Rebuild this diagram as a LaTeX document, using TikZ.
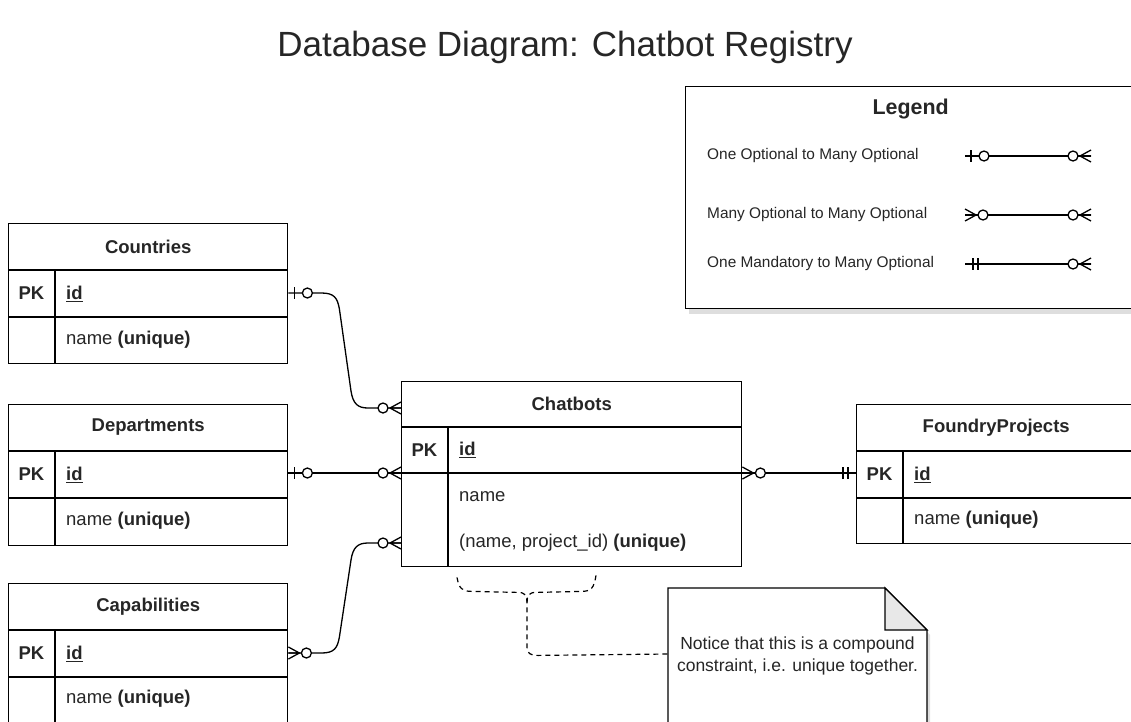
\documentclass[tikz,border=0pt]{standalone}
\usepackage{fontspec}
\setmainfont{Liberation Sans}
\usetikzlibrary{calc,shadows}
\newcommand\ertable[6]{%
  \node[tblbox, minimum width=#4, minimum height=#5, anchor=north west] (#1) at (#2,#3) {};
  \coordinate (#1-h) at ($(#1.north west)+(0,47)$);
  \coordinate (#1-r) at ($(#1.north west)+(0,94)$);
  \draw[tblline] (#1-h) -- (#1-h -| #1.east);
  \draw[tblline] (#1-r) -- (#1-r -| #1.east);
  \draw[tblline] ($(#1-h)+(47,0)$) -- ($(#1.south west)+(47,0)$);
  \node[hdrtext] (#1-title) at ($(#1.north)+(0,23.5)$) {#6};
  \node[pktext] (#1-pk) at ($(#1.north west)+(23.5,70.5)$) {PK};
  \node[fieldtext] (#1-id) at ($(#1.north west)+(58,70.5)$) {\textbf{\underline{id}}};
}
\begin{document}
\begin{tikzpicture}[x=1pt,y=-1pt,
  tblbox/.style={draw, line width=1.4pt, inner sep=0pt, fill=white},
  tblline/.style={line width=1.4pt},
  hdrtext/.style={font=\fontsize{18.5}{22}\selectfont\bfseries, inner sep=0pt, text=black!85},
  pktext/.style={font=\fontsize{18.5}{22}\selectfont\bfseries, inner sep=0pt, text=black!85},
  fieldtext/.style={font=\fontsize{18.5}{22}\selectfont, inner sep=0pt, anchor=west, text=black!85},
  legtext/.style={font=\fontsize{15.4}{18}\selectfont, inner sep=0pt, anchor=west, text=black!85},
  conn/.style={line width=1.3pt},
  dashconn/.style={line width=1.2pt, dash pattern=on 5pt off 4pt},
  boxshadow/.style={drop shadow={shadow xshift=3pt, shadow yshift=-5pt, opacity=0.13, fill=black}},
  pics/oneopt/.style={code={\draw[conn] (6,-6) -- (6,6); \draw[conn, fill=white] (19,0) circle (5pt);}},
  pics/manyopt/.style={code={\draw[conn] (0,-6) -- (11,0) -- (0,6) (0,0) -- (11,0); \draw[conn, fill=white] (18,0) circle (5pt);}},
  pics/onemand/.style={code={\draw[conn] (8,-6) -- (8,6) (13,-6) -- (13,6);}},
]
\useasboundingbox (0,0) rectangle (1131,721);
\clip (0,0) rectangle (1131,721);
\fill[white] (0,0) rectangle (1131,721);

% Title
\node[font=\fontsize{35}{40}\selectfont, text=black!85] (title) at (565,47) {Database Diagram: Chatbot Registry};

% Legend
\node[draw, line width=1.4pt, fill=white, boxshadow, minimum width=450, minimum height=222, anchor=north west, inner sep=0pt] (legend) at (685,86) {};
\node[font=\fontsize{21.4}{24}\selectfont\bfseries, text=black!85] (legtitle) at ($(legend.north)+(0,23)$) {Legend};
\node[legtext] (leg1) at (707,156) {One Optional to Many Optional};
\node[legtext] (leg2) at (707,215) {Many Optional to Many Optional};
\node[legtext] (leg3) at (707,264) {One Mandatory to Many Optional};
\coordinate (l1a) at (965,156); \coordinate (l1b) at (1091,156);
\coordinate (l2a) at (965,215); \coordinate (l2b) at (1091,215);
\coordinate (l3a) at (965,264); \coordinate (l3b) at (1091,264);
\draw[conn] (l1a) -- (l1b);
\draw[conn] (l2a) -- (l2b);
\draw[conn] (l3a) -- (l3b);
\pic at (l1a) {oneopt};  \pic[rotate=180] at (l1b) {manyopt};
\pic at (l2a) {manyopt}; \pic[rotate=180] at (l2b) {manyopt};
\pic at (l3a) {onemand}; \pic[rotate=180] at (l3b) {manyopt};

% Tables
\ertable{countries}{8}{223}{279}{140}{Countries}
\node[fieldtext] (countries-name) at ($(countries.north west)+(58,117)$) {name \textbf{(unique)}};

\ertable{departments}{8}{404}{279}{141}{Departments}
\node[fieldtext] (departments-name) at ($(departments.north west)+(58,117)$) {name \textbf{(unique)}};

\ertable{capabilities}{8}{583}{279}{141}{Capabilities}
\node[fieldtext] (capabilities-name) at ($(capabilities.north west)+(58,116)$) {name \textbf{(unique)}};

\node[tblbox, minimum width=340, minimum height=185, anchor=north west] (chatbots) at (401,381) {};
\coordinate (chatbots-h) at ($(chatbots.north west)+(0,46)$);
\coordinate (chatbots-r) at ($(chatbots.north west)+(0,92)$);
\draw[tblline] (chatbots-h) -- (chatbots-h -| chatbots.east);
\draw[tblline] (chatbots-r) -- (chatbots-r -| chatbots.east);
\draw[tblline] ($(chatbots-h)+(47,0)$) -- ($(chatbots.south west)+(47,0)$);
\node[hdrtext] (chatbots-title) at ($(chatbots.north)+(0,23)$) {Chatbots};
\node[pktext] (chatbots-pk) at ($(chatbots.north west)+(23.5,69)$) {PK};
\node[fieldtext] (chatbots-id) at ($(chatbots.north west)+(58,69)$) {\textbf{\underline{id}}};
\node[fieldtext] (chatbots-name) at ($(chatbots.north west)+(58,116)$) {name};
\node[fieldtext] (chatbots-uniq) at ($(chatbots.north west)+(58,162)$) {(name, project\_id) \textbf{(unique)}};

\ertable{foundry}{856}{404}{279}{139}{FoundryProjects}
\node[fieldtext] (foundry-name) at ($(foundry.north west)+(58,116)$) {name \textbf{(unique)}};

% Connector anchor points
\coordinate (cA) at ($(countries.north east)+(0,70)$);
\coordinate (cB) at ($(departments.north east)+(0,69)$);
\coordinate (cC) at ($(capabilities.north east)+(0,70)$);
\coordinate (bA) at ($(chatbots.north west)+(0,27)$);
\coordinate (bB) at ($(chatbots.north west)+(0,92)$);
\coordinate (bC) at ($(chatbots.north west)+(0,162)$);
\coordinate (bD) at ($(chatbots.north east)+(0,92)$);
\coordinate (fD) at ($(foundry.north west)+(0,69)$);

% Connectors
\draw[conn] (cA) -- ($(cA)+(33,0)$) .. controls ($(cA)+(46,0)$) and ($(cA)+(49,5)$) .. ($(cA)+(51,16)$)
  -- ($(bA)+(-50,-17)$) .. controls ($(bA)+(-48,-4)$) and ($(bA)+(-43,0)$) .. ($(bA)+(-33,0)$) -- (bA);
\draw[conn] (cB) -- (bB);
\draw[conn] (cC) -- ($(cC)+(33,0)$) .. controls ($(cC)+(46,0)$) and ($(cC)+(49,-5)$) .. ($(cC)+(51,-16)$)
  -- ($(bC)+(-50,17)$) .. controls ($(bC)+(-48,4)$) and ($(bC)+(-43,0)$) .. ($(bC)+(-33,0)$) -- (bC);
\draw[conn] (bD) -- (fD);

\pic at (cA) {oneopt};  \pic[rotate=180] at (bA) {manyopt};
\pic at (cB) {oneopt};  \pic[rotate=180] at (bB) {manyopt};
\pic at (cC) {manyopt}; \pic[rotate=180] at (bC) {manyopt};
\pic at (bD) {manyopt}; \pic[rotate=180] at (fD) {onemand};

% Note
\coordinate (noteNW) at (668,588);
\path[draw, line width=1.4pt, fill=white, boxshadow] (noteNW) -- ++(217,0) -- ++(42,42) -- ++(0,120) -- ++(-259,0) -- cycle;
\path[draw, line width=1.4pt, fill=black!9] ($(noteNW)+(217,0)$) -- ++(0,42) -- ++(42,0) -- cycle;
\node[font=\fontsize{17.5}{22}\selectfont, align=center, text=black!85, inner sep=0pt] (note) at (797.5,656) {Notice that this is a compound\\constraint, i.e. unique together.};

% Brace
\coordinate (brL) at ($(chatbots.south west)+(56,10)$);
\coordinate (brR) at ($(chatbots.south west)+(195,8)$);
\coordinate (brM) at ($(chatbots.south west)+(126,35)$);
\coordinate (noteIn) at ($(noteNW)+(0,66)$);
\draw[dashconn] (brL) .. controls ($(brL)+(2,11)$) and ($(brL)+(5,14)$) .. ($(brL)+(15,14)$)
  -- ($(brM)+(-9,-10)$) .. controls ($(brM)+(-2,-10)$) and ($(brM)+(0,-7)$) .. (brM)
  -- ($(brM)+(0,44)$) .. controls ($(brM)+(0,51)$) and ($(brM)+(3,53)$) .. ($(brM)+(11,53)$) -- (noteIn);
\draw[dashconn] (brR) .. controls ($(brR)+(-2,13)$) and ($(brR)+(-5,16)$) .. ($(brR)+(-15,16)$)
  -- ($(brM)+(9,-10)$) .. controls ($(brM)+(2,-10)$) and ($(brM)+(0,-7)$) .. (brM);
\end{tikzpicture}
\end{document}
